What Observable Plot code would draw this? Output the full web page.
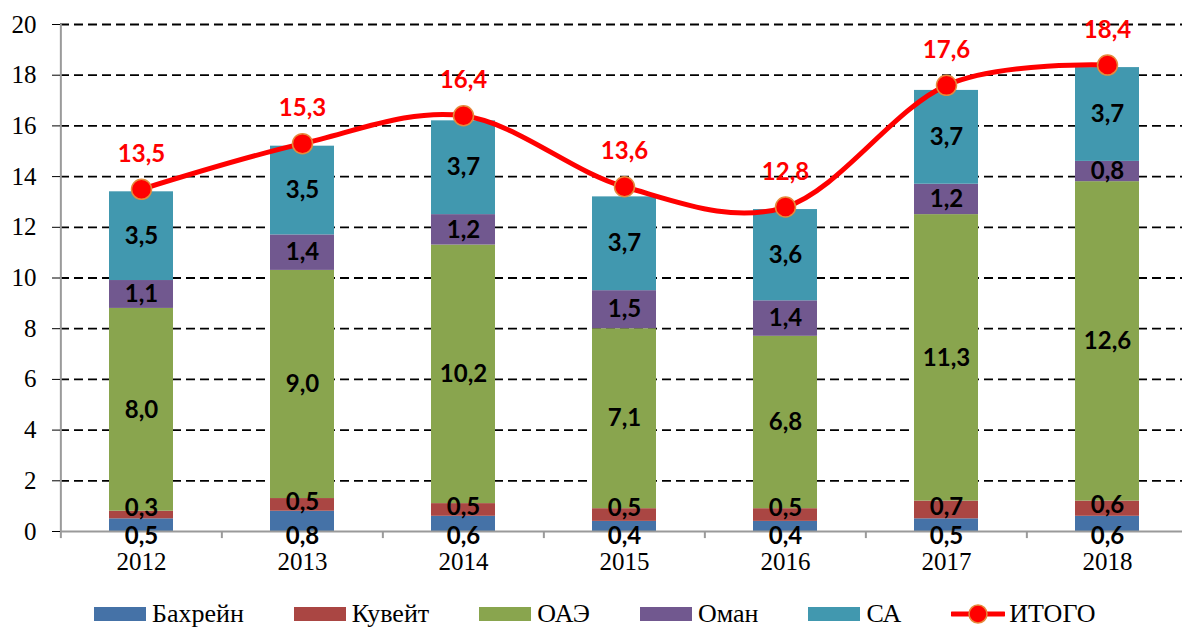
<!DOCTYPE html>
<html>
<head>
<meta charset="utf-8">
<script src="https://cdn.jsdelivr.net/npm/d3@7"></script>
<script src="https://cdn.jsdelivr.net/npm/@observablehq/plot@0.6"></script>
<style>
  body { margin: 0; background: #fff; }
  #wrap { position: relative; width: 1182px; height: 628px; overflow: hidden; }
  #legend { position: absolute; top: 599px; left: 94px; display: flex; align-items: center;
            font-family: "Liberation Serif", "Times New Roman", serif; font-size: 26px; line-height: 30px; color: #000; white-space: nowrap; }
  .item { display: flex; align-items: center; margin-right: 50px; }
  .sw { display: inline-block; width: 52px; height: 14px; margin-right: 6px; }
</style>
</head>
<body>
<div id="wrap">
  <div id="chart"></div>
  <div id="legend"></div>
</div>
<script>
const years = ["2012", "2013", "2014", "2015", "2016", "2017", "2018"];
const seriesNames = ["Бахрейн", "Кувейт", "ОАЭ", "Оман", "СА"];
const seriesColors = ["#4572A7", "#AA4643", "#89A54E", "#71588F", "#4198AF"];
const bahrain = [0.5, 0.8, 0.6, 0.4, 0.4, 0.5, 0.6];
const kuwait  = [0.3, 0.5, 0.5, 0.5, 0.5, 0.7, 0.6];
const uae     = [8.0, 9.0, 10.2, 7.1, 6.8, 11.3, 12.6];
const oman    = [1.1, 1.4, 1.2, 1.5, 1.4, 1.2, 0.8];
const sa      = [3.5, 3.5, 3.7, 3.7, 3.6, 3.7, 3.7];
const totals  = [13.5, 15.3, 16.4, 13.6, 12.8, 17.6, 18.4];
const totalName = "ИТОГО";
const yTicks = [0, 2, 4, 6, 8, 10, 12, 14, 16, 18, 20];

const seriesValues = [bahrain, kuwait, uae, oman, sa];
const fmt = v => d3.format(".1f")(v).replace(".", ",");

// stacked rows
const rows = [];
years.forEach((yr, i) => {
  let acc = 0;
  seriesValues.forEach((vals, s) => {
    const v = vals[i];
    rows.push({year: yr, series: seriesNames[s], idx: s, value: v, y1: acc, y2: acc + v, mid: acc + v / 2});
    acc += v;
  });
});
const totalRows = years.map((yr, i) => ({year: yr, total: totals[i]}));

const W = 1182, ML = 60, MR = -7;
const step = (W - ML - MR) / years.length;
const labelFont = "Lato, 'Open Sans', sans-serif";
const LFS = 24;
const minKuwaitLabel = 0.8; // keep small-segment labels clear of the bottom labels

const chart = Plot.plot({
  width: W,
  height: 590,
  marginTop: 24,
  marginBottom: 59,
  marginLeft: ML,
  marginRight: MR,
  style: {fontFamily: "'Liberation Serif', 'Times New Roman', serif", fontSize: "25px", color: "#000", background: "#fff", overflow: "hidden"},
  x: {domain: years, paddingInner: 0.6, paddingOuter: 0.3, label: null},
  y: {domain: [0, 20], label: null},
  color: {domain: seriesNames, range: seriesColors},
  marks: [
    Plot.ruleY(yTicks.filter(t => t > 0), {stroke: "#000", strokeDasharray: "9,5", strokeWidth: 1.8}),
    Plot.barY(rows, {x: "year", y1: "y1", y2: "y2", fill: "series"}),
    // axis lines
    Plot.ruleY([0], {stroke: "#9a9a9a", strokeWidth: 2}),
    Plot.ruleX([years[0]], {x: d => d, dx: -step / 2, y1: 0, y2: 20, stroke: "#9a9a9a", strokeWidth: 2}),
    Plot.ruleX(years, {x: d => d, dx: -step / 2, y1: 0, y2: -0.28, stroke: "#9a9a9a", strokeWidth: 2}),
    Plot.axisY({ticks: yTicks, tickSize: 8, tickPadding: 16, tickFormat: d => String(d), stroke: "#000", fontSize: 25, fill: "#000"}),
    Plot.axisX({tickSize: 0, tickPadding: 21, fontSize: 25, fill: "#000"}),
    // segment labels
    Plot.text(rows.filter(d => d.idx >= 2), {x: "year", y: "mid", text: d => fmt(d.value),
      fontFamily: labelFont, fontWeight: "bold", fontSize: LFS, fill: "#000"}),
    Plot.text(rows.filter(d => d.idx === 1), {x: "year", y: d => Math.max(d.mid, minKuwaitLabel), dy: -3, text: d => fmt(d.value),
      fontFamily: labelFont, fontWeight: "bold", fontSize: LFS, fill: "#000"}),
    Plot.text(rows.filter(d => d.idx === 0), {x: "year", y: "y1", dy: 5, text: d => fmt(d.value),
      fontFamily: labelFont, fontWeight: "bold", fontSize: LFS, fill: "#000"}),
    // total line
    Plot.line(totalRows, {x: "year", y: "total", curve: d3.curveCardinal, stroke: "#ff0000", strokeWidth: 5}),
    Plot.dot(totalRows, {x: "year", y: "total", r: 10, fill: "#ff0000", stroke: "#E58A3C", strokeWidth: 1.5}),
    Plot.text(totalRows, {x: "year", y: "total", dy: -35, text: d => fmt(d.total),
      fontFamily: labelFont, fontWeight: "bold", fontSize: LFS, fill: "#ff0000"})
  ]
});
document.getElementById("chart").appendChild(chart);

// legend
const legend = document.getElementById("legend");
seriesNames.forEach((name, i) => {
  const it = document.createElement("div");
  it.className = "item";
  const sw = document.createElement("span");
  sw.className = "sw";
  sw.style.background = seriesColors[i];
  it.appendChild(sw);
  it.appendChild(document.createTextNode(name));
  legend.appendChild(it);
});
const it = document.createElement("div");
it.className = "item";
it.innerHTML = '<svg width="54" height="22" style="margin-right:4px"><line x1="1" y1="11" x2="53" y2="11" stroke="#ff0000" stroke-width="5" stroke-linecap="round"/><circle cx="27" cy="11" r="9" fill="#ff0000" stroke="#E58A3C" stroke-width="1.5"/></svg>';
it.appendChild(document.createTextNode(totalName));
legend.appendChild(it);
</script>
</body>
</html>
